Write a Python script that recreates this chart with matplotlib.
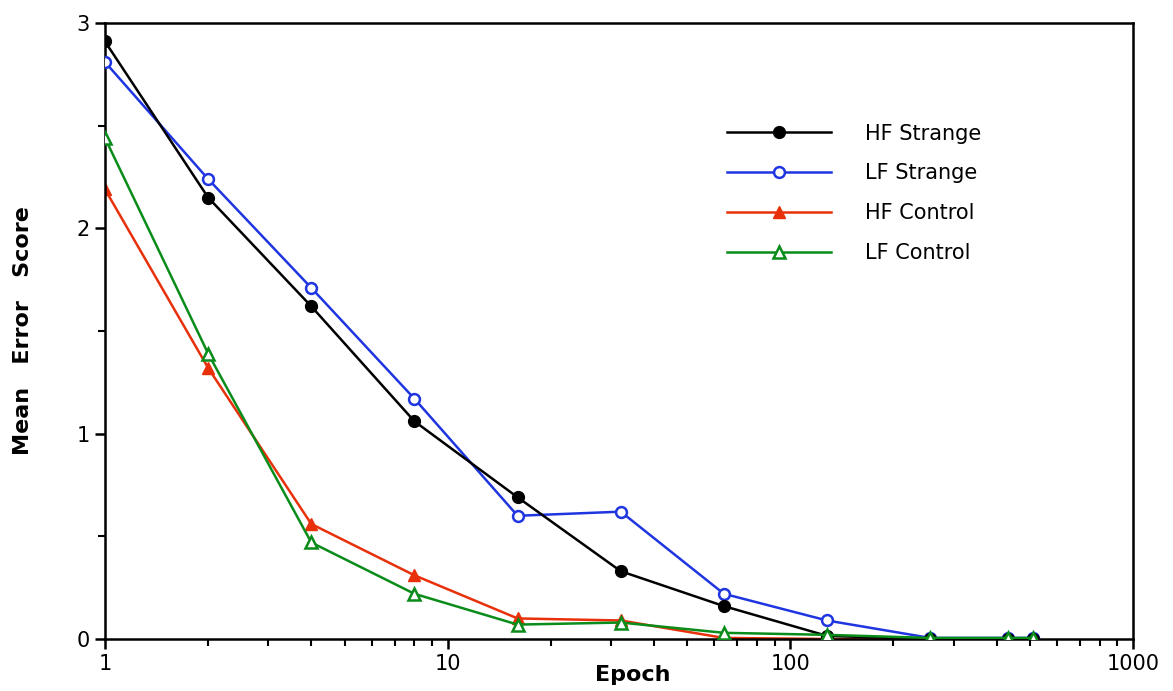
import matplotlib
matplotlib.use("Agg")
import matplotlib.pyplot as plt
from matplotlib.ticker import NullFormatter

epochs = [1, 2, 4, 8, 16, 32, 64, 128, 256, 432, 512]
hf_strange = [2.91, 2.15, 1.62, 1.06, 0.69, 0.33, 0.16, 0.015, 0.0, 0.0, 0.0]
lf_strange = [2.81, 2.24, 1.71, 1.17, 0.60, 0.62, 0.22, 0.09, 0.005, 0.005, 0.005]
hf_control = [2.19, 1.32, 0.56, 0.31, 0.10, 0.09, 0.005, 0.0, 0.0, 0.0, 0.0]
lf_control = [2.44, 1.39, 0.47, 0.22, 0.07, 0.08, 0.03, 0.02, 0.005, 0.005, 0.005]

labels = ["HF Strange", "LF Strange", "HF Control", "LF Control"]

plt.rcParams['font.family'] = ['DejaVu Sans']

fig = plt.figure(figsize=(11.73, 6.91), dpi=100)
ax = fig.add_axes([0.0895, 0.0753, 0.9659 - 0.0895, 0.9667 - 0.0753])

lw = 1.8
ax.plot(epochs, hf_strange, color='black', lw=lw, marker='o', ms=8.5,
        mfc='black', mec='black', label=labels[0], zorder=4)
ax.plot(epochs, lf_strange, color='#1f35e0', lw=lw, marker='o', ms=7.8,
        mfc='white', mec='#1f35e0', mew=1.8, label=labels[1], zorder=3)
ax.plot(epochs, hf_control, color='#e8300a', lw=lw, marker='^', ms=9,
        mfc='#e8300a', mec='#e8300a', label=labels[2], zorder=2)
ax.plot(epochs, lf_control, color='#0a8c1a', lw=lw, marker='^', ms=8,
        mfc='white', mec='#0a8c1a', mew=1.8, label=labels[3], zorder=5)

ax.set_xscale('log')
ax.set_xlim(1, 1000)
ax.set_ylim(0, 3)
ax.set_yticks([0, 1, 2, 3])
ax.set_yticks([0.5, 1.5, 2.5], minor=True)
ax.set_xticks([1, 10, 100, 1000])
ax.set_xticklabels(['1', '10', '100', '1000'])
ax.xaxis.set_minor_formatter(NullFormatter())

for s in ax.spines.values():
    s.set_linewidth(1.8)
ax.tick_params(which='major', direction='out', length=7, width=1.8, labelsize=15, pad=4)
ax.tick_params(which='minor', direction='out', length=5, width=1.5)

ax.set_xlabel('Epoch', fontsize=16, fontweight='bold')
ax.xaxis.set_label_coords(0.513, -0.042)
ax.set_ylabel('Mean   Error   Score', fontsize=16, fontweight='bold')
ax.yaxis.set_label_coords(-0.07, 0.5)

leg = ax.legend(loc='upper left', bbox_to_anchor=(0.587, 0.867), frameon=False,
                fontsize=15, handlelength=5.0, handletextpad=1.6,
                labelspacing=0.95, numpoints=1)

fig.savefig('out.png', dpi=100)
